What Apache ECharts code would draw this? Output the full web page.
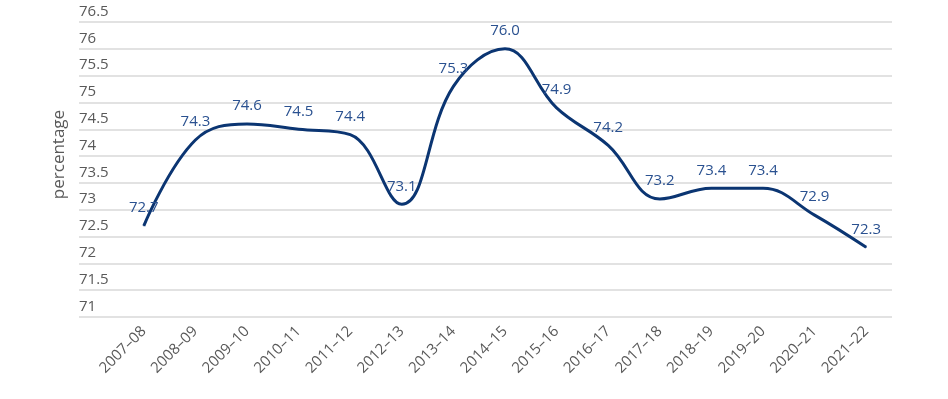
<!DOCTYPE html>
<html>
<head>
<meta charset="utf-8">
<script src="https://cdn.jsdelivr.net/npm/echarts@6/dist/echarts.min.js"></script>
<style>
  html, body { margin: 0; padding: 0; background: #fff; }
  #chart { width: 948px; height: 399px; }
</style>
</head>
<body>
<div id="chart"></div>
<script>
// financial years and percentage values
const years = ['2007–08', '2008–09', '2009–10', '2010–11', '2011–12', '2012–13', '2013–14',
  '2014–15', '2015–16', '2016–17', '2017–18', '2018–19', '2019–20', '2020–21', '2021–22']
const values = [72.7, 74.3, 74.6, 74.5, 74.4, 73.1, 75.3, 76.0, 74.9, 74.2, 73.2, 73.4, 73.4, 72.9, 72.3]

const yMin = 71
const yMax = 76.5
const yStep = 0.5

const fontFam = '"Open Sans", "Noto Sans", sans-serif'

const chart = echarts.init(document.getElementById('chart'))

chart.setOption({
  animation: false,
  grid: [
    // background grid with the y gridlines and labels
    { left: 79, right: 56, top: 22, bottom: 82 },
    // plot area for the line
    { left: 118, right: 56, top: 22, bottom: 82 }
  ],
  xAxis: [
    {
      gridIndex: 0,
      type: 'value',
      show: false,
      min: 0,
      max: 1
    },
    {
      gridIndex: 1,
      type: 'category',
      data: years,
      boundaryGap: true,
      axisLine: { show: false },
      axisTick: { show: false },
      axisLabel: {
        rotate: 45,
        margin: 12,
        interval: 0,
        color: '#595959',
        fontSize: 15,
        fontFamily: fontFam
      }
    }
  ],
  yAxis: [
    {
      gridIndex: 0,
      type: 'value',
      min: yMin,
      max: yMax,
      interval: yStep,
      name: 'percentage',
      nameLocation: 'middle',
      nameGap: 7,
      nameRotate: 90,
      nameTextStyle: { color: '#595959', fontSize: 17, fontFamily: fontFam, padding: [0, 0, 0, 30] },
      axisLine: { show: false },
      axisTick: { show: false },
      splitLine: { lineStyle: { color: '#d9d9d9', width: 1.5 } },
      axisLabel: {
        inside: true,
        margin: 0,
        verticalAlign: 'bottom',
        padding: [0, 0, 3, 0],
        color: '#595959',
        fontSize: 15,
        fontFamily: fontFam
      }
    },
    {
      gridIndex: 1,
      type: 'value',
      min: yMin,
      max: yMax,
      show: false,
      splitLine: { show: false }
    }
  ],
  series: [
    {
      type: 'line',
      xAxisIndex: 1,
      yAxisIndex: 1,
      data: values,
      smooth: 0.4,
      symbol: 'circle',
      symbolSize: 1,
      showSymbol: true,
      itemStyle: { color: '#0b3572' },
      lineStyle: { color: '#0b3572', width: 3 },
      label: {
        show: true,
        position: 'top',
        distance: 10,
        color: '#2a5190',
        fontSize: 15,
        fontFamily: fontFam,
        formatter: p => p.value.toFixed(1)
      }
    }
  ]
})
</script>
</body>
</html>
